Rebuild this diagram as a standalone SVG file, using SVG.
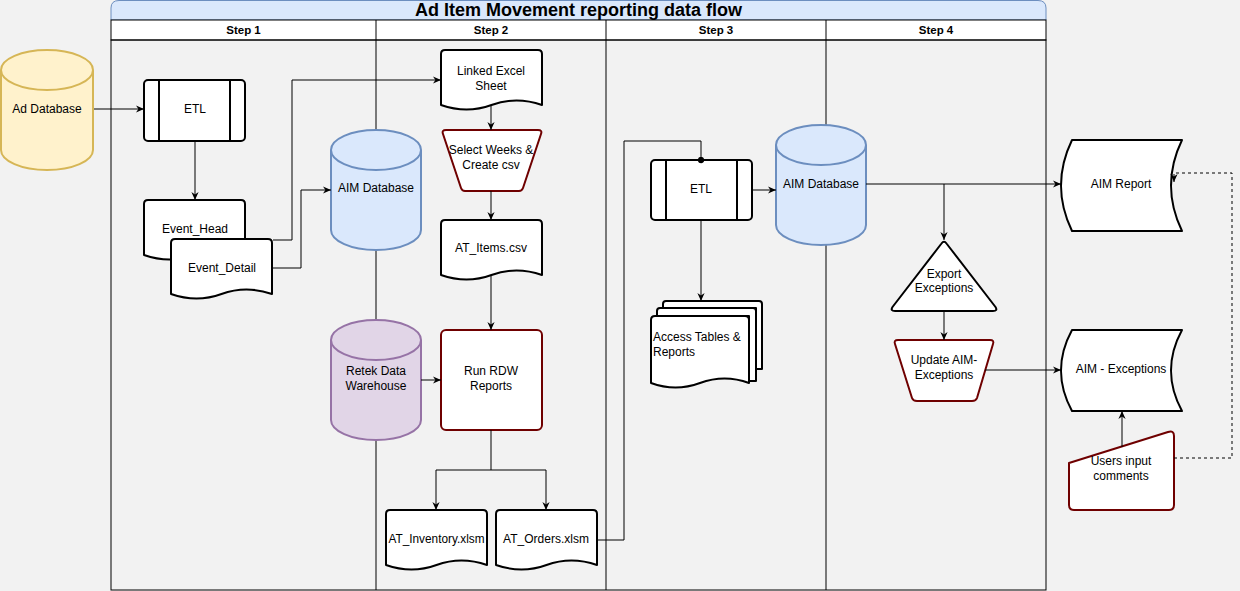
<svg xmlns="http://www.w3.org/2000/svg" width="1240" height="591" viewBox="0 0 1240 591">
<style>
text{font-family:"Liberation Sans",Arial,sans-serif;font-size:12px;fill:#000;text-anchor:middle}
.step{font-weight:bold;font-size:11.5px}
.title{font-weight:bold;font-size:18px}
.lane{fill:none;stroke:#000;stroke-width:1}
.node{fill:#fff;stroke:#000;stroke-width:2;stroke-linejoin:round}
.red{fill:#fff;stroke:#6f0000;stroke-width:2;stroke-linejoin:round}
.blue{fill:#dae8fc;stroke:#6c8ebf;stroke-width:2}
.purple{fill:#e1d5e7;stroke:#9673a6;stroke-width:2}
.yellow{fill:#fff2cc;stroke:#d6b656;stroke-width:2}
.inner{fill:none}
.edge{fill:none;stroke:#000;stroke-width:1}
.arrow{marker-end:url(#arr)}
.dash{stroke-dasharray:3,3}
</style>
<defs>
<marker id="arr" viewBox="0 0 10 10" refX="10" refY="5" markerWidth="8" markerHeight="8" markerUnits="userSpaceOnUse" orient="auto">
<path d="M0,0.5 L10,5 L0,9.5 L3,5 Z" fill="#000"/>
</marker>
<marker id="dot" viewBox="0 0 10 10" refX="5" refY="5" markerWidth="7" markerHeight="7" markerUnits="userSpaceOnUse">
<circle cx="5" cy="5" r="4.5" fill="#000"/>
</marker>
</defs>
<rect x="0" y="0" width="1240" height="591" fill="#f2f2f2"/>
<g id="pool">
<path d="M111,20 V8 Q111,0.5 119,0.5 H1038 Q1046,0.5 1046,8 V20 Z" fill="#dae8fc" stroke="#6c8ebf" stroke-width="1"/>
<text class="title" x="578.5" y="16">Ad Item Movement reporting data flow</text>
<rect x="111" y="20" width="935" height="20" fill="#fff" stroke="#000" stroke-width="1"/>
<rect class="lane" x="111" y="40" width="935" height="550"/>
<line class="lane" x1="376" y1="20" x2="376" y2="590"/>
<line class="lane" x1="606" y1="20" x2="606" y2="590"/>
<line class="lane" x1="826" y1="20" x2="826" y2="590"/>
<text class="step" x="243.5" y="34">Step 1</text>
<text class="step" x="491" y="34">Step 2</text>
<text class="step" x="716" y="34">Step 3</text>
<text class="step" x="936" y="34">Step 4</text>
</g>
<g id="ad-database">
<path class="yellow" d="M1,70 A46,20 0 0 1 93,70 V150 A46,20 0 0 1 1,150 Z"/>
<path class="yellow inner" d="M1,70 A46,20 0 0 0 93,70"/>
<text x="47" y="113">Ad Database</text>
</g>
<g id="etl-1">
<rect class="node" x="144" y="80" width="101" height="61" rx="4"/>
<line class="node" x1="159" y1="80" x2="159" y2="141"/>
<line class="node" x1="230" y1="80" x2="230" y2="141"/>
<text x="195" y="113">ETL</text>
</g>
<g id="event-head">
<path class="node" d="M144,255 V204 Q144,200 148,200 H241 Q245,200 245,204 V255 Q219.25,246 194.5,255 Q169.75,264 144,255 Z"/>
<text x="195" y="233">Event_Head</text>
</g>
<g id="event-detail">
<path class="node" d="M171,294 V243 Q171,239 175,239 H268 Q272,239 272,243 V294 Q246.25,285 221.5,294 Q196.75,303 171,294 Z"/>
<text x="222" y="272">Event_Detail</text>
</g>
<g id="aim-database-1">
<path class="blue" d="M331,150 A45,20 0 0 1 421,150 V230 A45,20 0 0 1 331,230 Z"/>
<path class="blue inner" d="M331,150 A45,20 0 0 0 421,150"/>
<text x="376" y="192">AIM Database</text>
</g>
<g id="retek">
<path class="purple" d="M331,340 A45,20 0 0 1 421,340 V420 A45,20 0 0 1 331,420 Z"/>
<path class="purple inner" d="M331,340 A45,20 0 0 0 421,340"/>
<text x="376" y="375">Retek Data</text>
<text x="376" y="390">Warehouse</text>
</g>
<g id="linked-excel">
<path class="node" d="M441,105 V54 Q441,50 445,50 H538 Q542,50 542,54 V105 Q516.25,96 491.5,105 Q466.75,114 441,105 Z"/>
<text x="491" y="75">Linked Excel</text>
<text x="491" y="90">Sheet</text>
</g>
<g id="select-weeks">
<path class="red" d="M446,130 H538 Q542.5,130 541,134 L523,188 Q522,191 519,191 H465 Q462,191 461,188 L443,134 Q441.5,130 446,130 Z"/>
<text x="491" y="154">Select Weeks &amp;</text>
<text x="491" y="169">Create csv</text>
</g>
<g id="at-items">
<path class="node" d="M441,275 V224 Q441,220 445,220 H538 Q542,220 542,224 V275 Q516.25,266 491.5,275 Q466.75,284 441,275 Z"/>
<text x="491" y="252">AT_Items.csv</text>
</g>
<g id="run-rdw">
<rect class="red" x="441" y="330" width="101" height="100" rx="5"/>
<text x="491" y="375">Run RDW</text>
<text x="491" y="390">Reports</text>
</g>
<g id="at-inventory">
<path class="node" d="M386,565 V514 Q386,510 390,510 H483 Q487,510 487,514 V565 Q461.25,556 436.5,565 Q411.75,574 386,565 Z"/>
<text x="436.5" y="543" textLength="96" lengthAdjust="spacingAndGlyphs">AT_Inventory.xlsm</text>
</g>
<g id="at-orders">
<path class="node" d="M496,565 V514 Q496,510 500,510 H593 Q597,510 597,514 V565 Q571.25,556 546.5,565 Q521.75,574 496,565 Z"/>
<text x="546" y="543">AT_Orders.xlsm</text>
</g>
<g id="etl-2">
<rect class="node" x="651" y="160" width="101" height="60" rx="4"/>
<line class="node" x1="666" y1="160" x2="666" y2="220"/>
<line class="node" x1="737" y1="160" x2="737" y2="220"/>
<text x="701" y="193">ETL</text>
</g>
<g id="aim-database-2">
<path class="blue" d="M776,145 A45,20 0 0 1 866,145 V225 A45,20 0 0 1 776,225 Z"/>
<path class="blue inner" d="M776,145 A45,20 0 0 0 866,145"/>
<text x="821" y="188">AIM Database</text>
</g>
<g id="access-tables">
<path class="node" d="M663,308 V304 Q663,301 666,301 H759 Q762,301 762,304 V369 H756 V308 Z"/>
<path class="node" d="M657,316 V311 Q657,308 660,308 H753 Q756,308 756,311 V381 H749 V316 Z"/>
<path class="node" d="M651,383 V320 Q651,316 655,316 H745 Q749,316 749,320 V383 Q724.5,374 700,383 Q675.5,392 651,383 Z"/>
<text x="653" y="341" style="text-anchor:start">Access Tables &amp;</text>
<text x="653" y="356" style="text-anchor:start">Reports</text>
</g>
<g id="aim-report">
<path class="node" d="M1072,140 H1182 Q1160,185.5 1182,231 H1072 Q1050,185.5 1072,140 Z"/>
<text x="1121" y="188">AIM Report</text>
</g>
<g id="export-exceptions">
<path class="node" d="M941.5,243.5 Q944,240 946.5,243.5 L995.5,307 Q998,311 993,311 L895,311 Q890,311 892.5,307 Z"/>
<text x="944" y="278">Export</text>
<text x="944" y="292">Exceptions</text>
</g>
<g id="update-aim-exceptions">
<path class="red" d="M898,340 H990 Q994.5,340 993,344 L977,398 Q976,401 972,401 H917 Q913,401 912,398 L895,344 Q893.5,340 898,340 Z"/>
<text x="944" y="364">Update AIM-</text>
<text x="944" y="379">Exceptions</text>
</g>
<g id="aim-exceptions">
<path class="node" d="M1072,330 H1182 Q1160,370.5 1182,411 H1072 Q1050,370.5 1072,330 Z"/>
<text x="1121" y="373">AIM - Exceptions</text>
</g>
<g id="users-input">
<path class="red" d="M1069,463 L1168,432 Q1174,430 1174,436 V505 Q1174,510 1169,510 H1074 Q1069,510 1069,505 Z"/>
<text x="1121" y="465">Users input</text>
<text x="1121" y="480">comments</text>
</g>
<g id="connectors">
<path class="edge arrow" d="M94,109 H144"/>
<path class="edge arrow" d="M195,141 V200"/>
<path class="edge arrow" d="M273,240 H292 V80 H441"/>
<path class="edge arrow" d="M272,268 H301 V190 H331"/>
<path class="edge arrow" d="M491,105 V130"/>
<path class="edge arrow" d="M491,191 V220"/>
<path class="edge arrow" d="M491,275 V330"/>
<path class="edge arrow" d="M421,380 H441"/>
<path class="edge arrow" d="M491,430 V470 H436 V510"/>
<path class="edge arrow" d="M491,470 H546 V510"/>
<path class="edge" d="M597,540 H624 V141 H701 V160" marker-end="url(#dot)"/>
<path class="edge arrow" d="M752,190 H776"/>
<path class="edge arrow" d="M701,220 V301"/>
<path class="edge arrow" d="M866,184 H1061"/>
<path class="edge arrow" d="M944,184 V240"/>
<path class="edge arrow" d="M944,311 V340"/>
<path class="edge arrow" d="M985,370 H1061"/>
<path class="edge arrow" d="M1122,447 V411"/>
<path class="edge arrow dash" d="M1174,458 H1232 V173 H1174 V182"/>
</g>
</svg>
